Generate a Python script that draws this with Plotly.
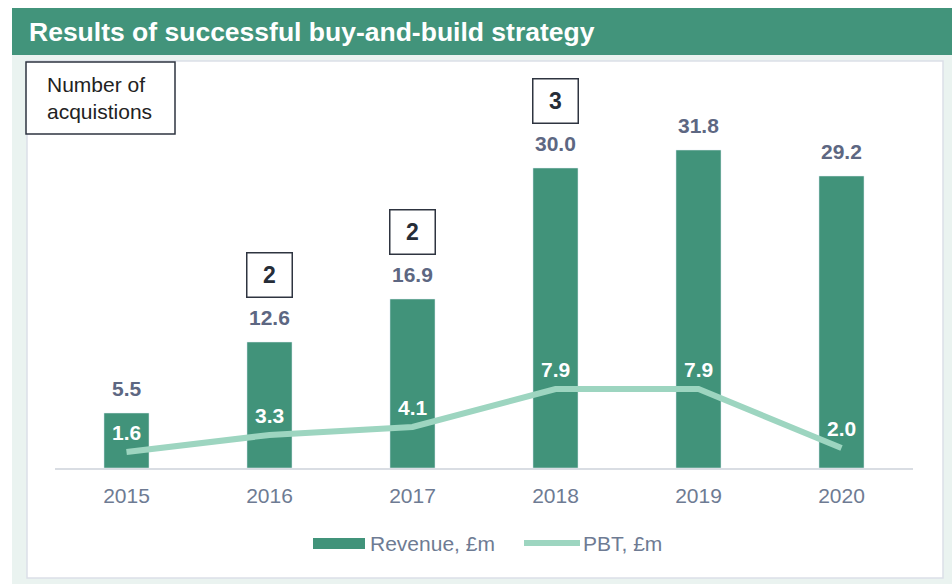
import plotly.graph_objects as go

years = ["2015", "2016", "2017", "2018", "2019", "2020"]
revenue = [5.5, 12.6, 16.9, 30.0, 31.8, 29.2]
pbt = [1.6, 3.3, 4.1, 7.9, 7.9, 2.0]
acquisitions = [None, 2, 2, 3, None, None]

title_text = "Results of successful buy-and-build strategy"
acq_label = "Number of<br>acquistions"
rev_name = "Revenue, £m"
pbt_name = "PBT, £m"

W, H = 952, 584
L, R, T, B = 55, 39, 68, 116
PW = W - L - R
PH = H - T - B

FONT = "Liberation Sans, Arial, sans-serif"
GREEN = "#41937A"
MINT = "#9DD5C0"
LABEL = "#5D6782"
TICK = "#6E7B93"


def xp(px):
    return (px - L) / PW


def yp(py):
    return (H - B - py) / PH


fig = go.Figure()
fig.add_trace(go.Bar(x=years, y=revenue, name=rev_name, marker_color=GREEN,
                     width=0.315, showlegend=False, hoverinfo="y"))
fig.add_trace(go.Scatter(x=years, y=pbt, name=pbt_name, mode="lines",
                         line=dict(color=MINT, width=6), showlegend=False))

ann = []
for i, v in enumerate(revenue):
    ann.append(dict(x=i, y=v, xref="x", yref="y", text=f"<b>{v:.1f}</b>",
                    showarrow=False, yanchor="bottom", yshift=11,
                    font=dict(family=FONT, size=21, color=LABEL)))
for i, v in enumerate(pbt):
    ann.append(dict(x=i, y=v, xref="x", yref="y", text=f"<b>{v:.1f}</b>",
                    showarrow=False, yanchor="bottom", yshift=6,
                    font=dict(family=FONT, size=21, color="white")))
for i, (v, a) in enumerate(zip(revenue, acquisitions)):
    if a is None:
        continue
    ann.append(dict(x=i, y=v, xref="x", yref="y", text=f"<b>{a}</b>",
                    showarrow=False, yanchor="middle", yshift=67,
                    width=42, height=41, borderpad=1, borderwidth=1.5,
                    bordercolor="#2E3440", bgcolor="white",
                    font=dict(family=FONT, size=23, color="#262D38")))

# title
ann.append(dict(x=xp(27), y=yp(32), xref="paper", yref="paper", text=f"<b>{title_text}</b>",
                showarrow=False, xanchor="left", yanchor="middle",
                font=dict(family=FONT, size=26.5, color="white")))
# number of acquisitions label
ann.append(dict(x=xp(45), y=yp(98), xref="paper", yref="paper", text=acq_label,
                showarrow=False, xanchor="left", yanchor="middle", align="left",
                font=dict(family=FONT, size=21, color="#222222")))
# legend texts
ann.append(dict(x=xp(368), y=yp(543), xref="paper", yref="paper", text=rev_name,
                showarrow=False, xanchor="left", yanchor="middle",
                font=dict(family=FONT, size=21, color=TICK)))
ann.append(dict(x=xp(581), y=yp(543), xref="paper", yref="paper", text=pbt_name,
                showarrow=False, xanchor="left", yanchor="middle",
                font=dict(family=FONT, size=21, color=TICK)))

shapes = [
    dict(type="rect", xref="paper", yref="paper", x0=xp(12), x1=xp(952), y0=yp(584), y1=yp(55),
         fillcolor="#EAF3F0", line=dict(width=0), layer="below"),
    dict(type="rect", xref="paper", yref="paper", x0=xp(12), x1=xp(952), y0=yp(55), y1=yp(8),
         fillcolor="#42947B", line=dict(width=0), layer="below"),
    dict(type="rect", xref="paper", yref="paper", x0=xp(27), x1=xp(943), y0=yp(578), y1=yp(61),
         fillcolor="white", line=dict(width=1.5, color="#DCDFE8"), layer="below"),
    dict(type="rect", xref="paper", yref="paper", x0=xp(26), x1=xp(175), y0=yp(134), y1=yp(62),
         fillcolor="white", line=dict(width=1.5, color="#2E3440"), layer="above"),
    dict(type="rect", xref="paper", yref="paper", x0=xp(313), x1=xp(365), y0=yp(549), y1=yp(538),
         fillcolor=GREEN, line=dict(width=0), layer="above"),
    dict(type="line", xref="paper", yref="paper", x0=xp(524), x1=xp(580), y0=yp(543), y1=yp(543),
         line=dict(width=6, color=MINT), layer="above"),
]

fig.update_layout(
    width=W, height=H,
    margin=dict(l=L, r=R, t=T, b=B),
    paper_bgcolor="white", plot_bgcolor="rgba(0,0,0,0)",
    annotations=ann, shapes=shapes, showlegend=False,
    xaxis=dict(type="category", range=[-0.5, 5.5], showline=True, linecolor="#D9DDE3",
               linewidth=2, ticks="outside", ticklen=8, tickcolor="rgba(0,0,0,0)",
               showgrid=False, zeroline=False,
               tickfont=dict(family=FONT, size=21, color=TICK)),
    yaxis=dict(range=[0, 40], visible=False, showgrid=False, zeroline=False),
    font=dict(family=FONT),
)

fig.write_html("out.html", config={"displayModeBar": False},
               post_script="document.body.style.margin='0';document.body.style.overflow='hidden';")
